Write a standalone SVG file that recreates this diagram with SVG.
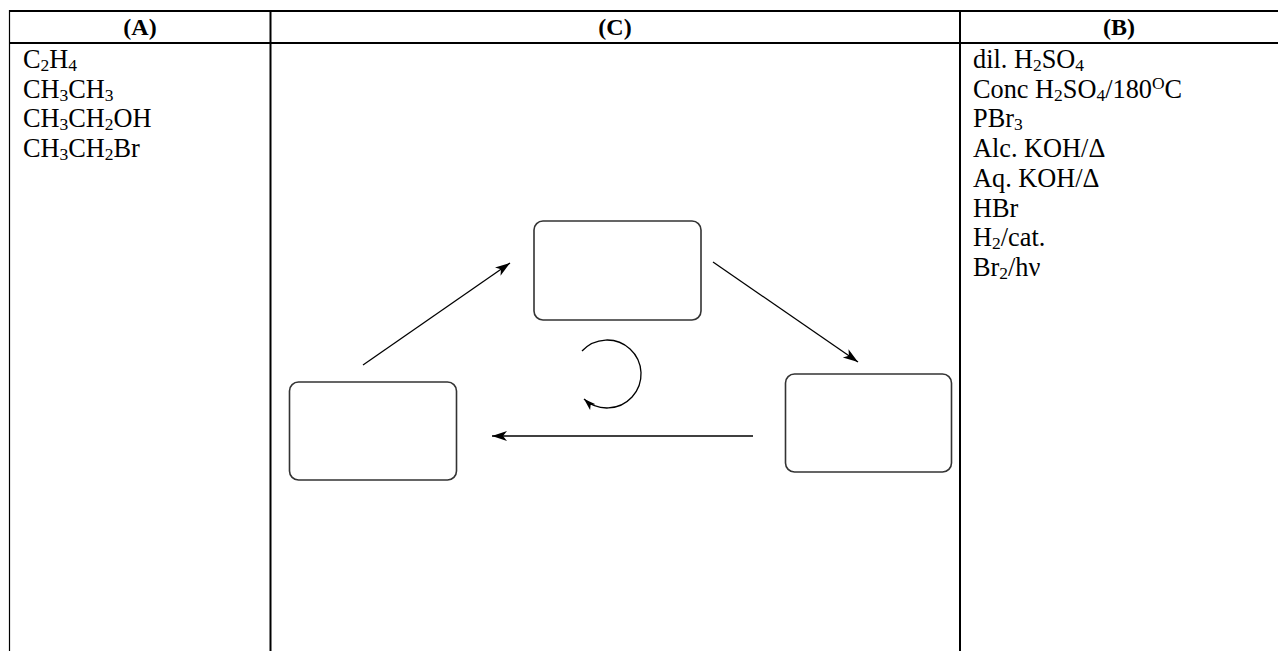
<svg xmlns="http://www.w3.org/2000/svg" width="1278" height="651" viewBox="0 0 1278 651">
<style>
text{font-family:"Liberation Serif","Times New Roman",serif;font-size:26.3px;fill:#000}
.hd{font-weight:bold;font-size:24px;text-anchor:middle}
.s{font-size:17.5px}
.grid{stroke:#000;fill:none}
.box{fill:#fff;stroke:#333;stroke-width:1.6}
.conn{stroke:#000;stroke-width:1.3;fill:none}
</style>
<defs>
<marker id="ah" markerUnits="userSpaceOnUse" markerWidth="16" markerHeight="12" refX="15" refY="5" orient="auto">
<path d="M0,0 L15,5 L0,10 L4,5 z" fill="#000"/>
</marker>
<marker id="ahs" markerUnits="userSpaceOnUse" markerWidth="14" markerHeight="10" refX="12" refY="4" orient="auto">
<path d="M0,0 L12,4 L0,8 L3,4 z" fill="#000"/>
</marker>
</defs>
<rect width="1278" height="651" fill="#fff"/>
<g id="table">
<line class="grid" x1="9" y1="11" x2="1278" y2="11" stroke-width="2"/>
<line class="grid" x1="9" y1="43" x2="1278" y2="43" stroke-width="2"/>
<line class="grid" x1="9.5" y1="10" x2="9.5" y2="651" stroke-width="1.2"/>
<line class="grid" x1="270.5" y1="10" x2="270.5" y2="651" stroke-width="2"/>
<line class="grid" x1="960" y1="10" x2="960" y2="651" stroke-width="2"/>
</g>
<g id="headers">
<text class="hd" x="140" y="35">(A)</text>
<text class="hd" x="615" y="35">(C)</text>
<text class="hd" x="1119" y="35">(B)</text>
</g>
<g id="colA">
<text x="23" y="68">C<tspan class="s" dy="3">2</tspan><tspan dy="-3">H</tspan><tspan class="s" dy="3">4</tspan></text>
<text x="23" y="97.7">CH<tspan class="s" dy="3">3</tspan><tspan dy="-3">CH</tspan><tspan class="s" dy="3">3</tspan></text>
<text x="23" y="127.4">CH<tspan class="s" dy="3">3</tspan><tspan dy="-3">CH</tspan><tspan class="s" dy="3">2</tspan><tspan dy="-3">OH</tspan></text>
<text x="23" y="157.1">CH<tspan class="s" dy="3">3</tspan><tspan dy="-3">CH</tspan><tspan class="s" dy="3">2</tspan><tspan dy="-3">Br</tspan></text>
</g>
<g id="colB">
<text x="973" y="68">dil. H<tspan class="s" dy="3">2</tspan><tspan dy="-3">SO</tspan><tspan class="s" dy="3">4</tspan></text>
<text x="973" y="97.7">Conc H<tspan class="s" dy="3">2</tspan><tspan dy="-3">SO</tspan><tspan class="s" dy="3">4</tspan><tspan dy="-3">/180</tspan><tspan class="s" dy="-9">O</tspan><tspan dy="9">C</tspan></text>
<text x="973" y="127.4">PBr<tspan class="s" dy="3">3</tspan></text>
<text x="973" y="157.1">Alc. KOH/Δ</text>
<text x="973" y="186.8">Aq. KOH/Δ</text>
<text x="973" y="216.5">HBr</text>
<text x="973" y="246.2">H<tspan class="s" dy="3">2</tspan><tspan dy="-3">/cat.</tspan></text>
<text x="973" y="275.9">Br<tspan class="s" dy="3">2</tspan><tspan dy="-3">/hν</tspan></text>
</g>
<g id="node-top"><rect class="box" x="534" y="221" width="167" height="99" rx="9"/></g>
<g id="node-left"><rect class="box" x="289.5" y="382" width="167" height="98" rx="9"/></g>
<g id="node-right"><rect class="box" x="785.5" y="374" width="166" height="98" rx="9"/></g>
<g id="connectors">
<line class="conn" x1="363" y1="365" x2="510" y2="263" marker-end="url(#ah)"/>
<line class="conn" x1="713" y1="262" x2="858" y2="362" marker-end="url(#ah)"/>
<line class="conn" x1="753" y1="436" x2="492" y2="436" stroke-width="2" marker-end="url(#ah)"/>
<path class="conn" d="M582,351 A34,34 0 1 1 584,399" marker-end="url(#ahs)"/>
</g>
</svg>
